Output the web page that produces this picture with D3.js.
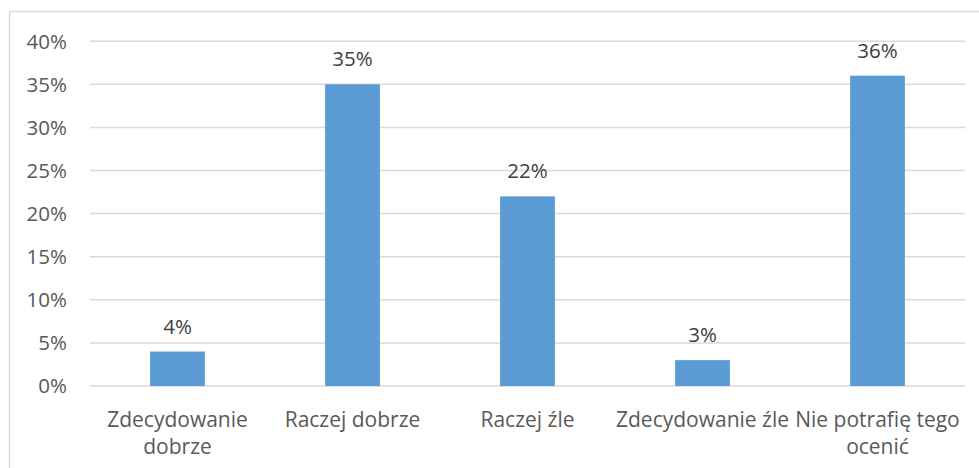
<!DOCTYPE html>
<html>
<head>
<meta charset="utf-8">
<script src="https://cdn.jsdelivr.net/npm/d3@7"></script>
<style>
  html, body { margin: 0; padding: 0; background: #fff; }
  svg { display: block; }
  text { font-family: "Open Sans", "Noto Sans", sans-serif; }
</style>
</head>
<body>
<svg id="chart" width="979" height="468"></svg>
<script>
// Survey answers and their shares (in percent)
const categories = [
  ["Zdecydowanie", "dobrze"],
  ["Raczej dobrze"],
  ["Raczej źle"],
  ["Zdecydowanie źle"],
  ["Nie potrafię tego", "ocenić"]
];
const values = [4, 35, 22, 3, 36];
const yTicks = [0, 5, 10, 15, 20, 25, 30, 35, 40];

const svg = d3.select("#chart");

// Outer frame of the chart area
svg.append("rect")
  .attr("x", 9.5).attr("y", 11.5)
  .attr("width", 1000).attr("height", 500)
  .attr("fill", "none")
  .attr("stroke", "#d9d9d9")
  .attr("stroke-width", 1.5);

const plot = { left: 90, right: 965, top: 41.2, bottom: 386 };

const x = d3.scaleBand()
  .domain(d3.range(categories.length))
  .range([plot.left, plot.right])
  .padding(0);

const y = d3.scaleLinear()
  .domain([0, 40])
  .range([plot.bottom, plot.top]);

const barWidth = x.bandwidth() * 0.313;

// Horizontal gridlines
svg.append("g")
  .selectAll("line")
  .data(yTicks)
  .join("line")
  .attr("x1", plot.left).attr("x2", plot.right)
  .attr("y1", d => y(d)).attr("y2", d => y(d))
  .attr("stroke", "#d9d9d9")
  .attr("stroke-width", 1.5);

// Y axis labels
svg.append("g")
  .selectAll("text")
  .data(yTicks)
  .join("text")
  .attr("x", 67)
  .attr("y", d => y(d))
  .attr("dy", "0.36em")
  .attr("text-anchor", "end")
  .attr("font-size", 20.5)
  .attr("fill", "#595959")
  .text(d => d + "%");

// Bars
svg.append("g")
  .selectAll("rect")
  .data(values)
  .join("rect")
  .attr("x", (d, i) => x(i) + x.bandwidth() / 2 - barWidth / 2)
  .attr("width", barWidth)
  .attr("y", d => y(d))
  .attr("height", d => y(0) - y(d))
  .attr("fill", "#5b9bd5");

// Value labels above bars
svg.append("g")
  .selectAll("text")
  .data(values)
  .join("text")
  .attr("x", (d, i) => x(i) + x.bandwidth() / 2)
  .attr("y", d => y(d) - 18)
  .attr("text-anchor", "middle")
  .attr("font-size", 20.5)
  .attr("fill", "#404040")
  .text(d => d + "%");

// Category labels (possibly two lines)
const catG = svg.append("g")
  .selectAll("text")
  .data(categories)
  .join("text")
  .attr("x", (d, i) => x(i) + x.bandwidth() / 2)
  .attr("y", 426.5)
  .attr("text-anchor", "middle")
  .attr("font-size", 21)
  .attr("fill", "#595959");

catG.selectAll("tspan")
  .data(d => d)
  .join("tspan")
  .attr("x", function() { return d3.select(this.parentNode).attr("x"); })
  .attr("dy", (d, i) => i === 0 ? 0 : 27.5)
  .text(d => d);
</script>
</body>
</html>
